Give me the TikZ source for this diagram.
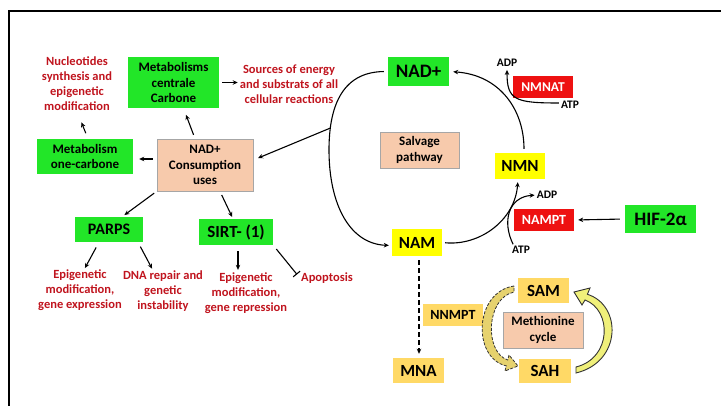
\documentclass[tikz,border=0pt]{standalone}
\usepackage{fontspec}
\setmainfont{Carlito}
\usetikzlibrary{arrows.meta}
\definecolor{grn}{HTML}{22E628}
\definecolor{peach}{HTML}{F7CAAC}
\definecolor{peachb}{HTML}{A6A6A6}
\definecolor{yel}{HTML}{FFFF00}
\definecolor{redb}{HTML}{EE1111}
\definecolor{gold}{HTML}{FFD966}
\definecolor{redt}{HTML}{C0141E}
\definecolor{arrA}{HTML}{E6D26E}
\definecolor{arrB}{HTML}{F0F07A}
\definecolor{dk}{HTML}{333333}
\tikzset{
  box/.style={inner sep=0pt, align=center, font=\fontsize{13}{15.5}\selectfont\bfseries},
  gbox/.style={box, fill=grn},
  pbox/.style={box, fill=peach, draw=peachb, line width=0.8pt},
  ybox/.style={box, fill=yel},
  rbox/.style={box, fill=redb, text=white},
  obox/.style={box, fill=gold},
  rtxt/.style={inner sep=0pt, align=center, text=redt, font=\fontsize{12.5}{15}\selectfont\bfseries},
  cof/.style={inner sep=0pt, font=\fontsize{11.5}{13}\selectfont\bfseries},
  arr/.style={-{Stealth[length=5pt,width=4.5pt]}, line width=1.1pt},
}
\begin{document}
\begin{tikzpicture}[x=1pt,y=-1pt]
\useasboundingbox (0,0) rectangle (721,406);
\draw[line width=2.5pt] (9,406) -- (9,11) -- (721,11);

% left part
\node[rtxt] (nucl) at (77,84) {Nucleotides\\synthesis and\\epigenetic\\modification};
\node[gbox, minimum width=91pt, minimum height=51pt] (metc) at (173.5,82.5) {Metabolisms\\centrale\\Carbone};
\node[rtxt] (src) at (289,84) {Sources of energy\\and substrats of all\\cellular reactions};
\node[gbox, minimum width=96pt, minimum height=35pt] (meto) at (85,156.5) {Metabolism\\one-carbone};
\node[pbox, minimum width=96pt, minimum height=52pt] (cons) at (205,165) {NAD+\\Consumption\\uses};
\node[gbox, minimum width=68pt, minimum height=25pt, font=\fontsize{16}{18}\selectfont\bfseries] (parps) at (109,229.5) {PARPS};
\node[gbox, minimum width=74pt, minimum height=26pt, font=\fontsize{17}{19}\selectfont\bfseries] (sirt) at (236,232) {SIRT- (1)};
\node[rtxt] (epi1) at (80,290.5) {Epigenetic\\modification,\\gene expression};
\node[rtxt] (dna) at (163,291) {DNA repair and\\genetic\\instability};
\node[rtxt] (epi2) at (246,293.5) {Epigenetic\\modification,\\gene repression};
\node[rtxt] (apop) at (327,278) {Apoptosis};

% salvage pathway
\node[gbox, minimum width=61pt, minimum height=29pt, font=\fontsize{19}{21}\selectfont\bfseries] (nadp) at (418.5,71.5) {NAD+};
\node[rbox, minimum width=60pt, minimum height=22pt, font=\fontsize{13.5}{15}\selectfont\bfseries] (nmnat) at (543,87) {NMNAT};
\node[cof] (adp1) at (507,63) {ADP};
\node[cof] (atp1) at (570,105) {ATP};
\node[pbox, minimum width=79pt, minimum height=36pt] (salv) at (419.5,150) {Salvage\\pathway};
\node[ybox, minimum width=50pt, minimum height=26pt, font=\fontsize{17}{19}\selectfont\bfseries] (nmn) at (520,166) {NMN};
\node[rbox, minimum width=60pt, minimum height=22pt, font=\fontsize{14}{16}\selectfont\bfseries] (nampt) at (544,220) {NAMPT};
\node[cof] (adp2) at (547,195) {ADP};
\node[cof] (atp2) at (521,250) {ATP};
\node[gbox, minimum width=71pt, minimum height=28pt, font=\fontsize{19}{21}\selectfont\bfseries] (hif) at (660.5,219) {HIF-2α};
\node[ybox, minimum width=50pt, minimum height=27pt, font=\fontsize{17}{19}\selectfont\bfseries] (nam) at (417,242.5) {NAM};
\node[obox, minimum width=51pt, minimum height=25pt, font=\fontsize{17}{19}\selectfont\bfseries] (mna) at (418.5,370.5) {MNA};
\node[obox, minimum width=60pt, minimum height=22pt, font=\fontsize{14}{16}\selectfont\bfseries] (nnmpt) at (453,315) {NNMPT};
\node[obox, minimum width=51pt, minimum height=25pt, font=\fontsize{17}{19}\selectfont\bfseries] (sam) at (543.5,290.5) {SAM};
\node[pbox, minimum width=80pt, minimum height=36pt] (meth) at (543,330) {Methionine\\cycle};
\node[obox, minimum width=52pt, minimum height=24pt, font=\fontsize{17}{19}\selectfont\bfseries] (sah) at (545,371) {SAH};

% connectors, left part
\draw[arr, shorten <=4pt, shorten >=6pt] ([yshift=6pt]cons.west) -- ([yshift=-2.5pt]meto.east);
\draw[arr, shorten <=4pt, shorten >=7pt] ([xshift=-10pt]cons.north) -- ([xshift=10pt]metc.south);
\draw[arr, shorten <=6pt, shorten >=12pt] ([xshift=3pt]meto.north) -- (nucl.south);
\draw[arr, shorten <=3pt, shorten >=2pt] (metc.east) -- (metc.east -| src.west);
\draw[arr, shorten <=3pt, shorten >=3pt] (cons.south west) -- ([xshift=13pt]parps.north);
\draw[arr, shorten <=4pt, shorten >=2pt] ([xshift=15pt]cons.south) -- ([xshift=-3pt]sirt.north);
\draw[arr, shorten <=6pt, shorten >=2pt] ([xshift=-10pt]parps.south) -- ([xshift=4pt]epi1.north);
\draw[arr, shorten <=5pt, shorten >=2pt] ([xshift=29pt]parps.south) -- ([xshift=-10pt]dna.north);
\draw[arr, shorten <=6pt, shorten >=3pt] ([xshift=2pt]sirt.south) -- ([xshift=2pt]sirt.south |- epi2.north);
\draw[-{Bar[width=9pt]}, line width=1.1pt, shorten <=5pt] (sirt.south east) -- ([xshift=-4pt,yshift=-2pt]apop.north west);

% salvage cycle
\coordinate (junc) at (330.5,128);
\draw[arr, shorten <=4pt, shorten >=3pt] (nadp.west) .. controls (340,72) and (329,110) .. (329,150) .. controls (329,205) and (350,244) .. ([yshift=-3pt]nam.west);
\draw[arr, shorten >=5pt] (junc) -- ([yshift=5pt]cons.east);
\draw[arr, shorten <=3pt, shorten >=3pt] (nam.east) .. controls (480,246) and (515,220) .. ([xshift=-2pt]nmn.south);
\draw[arr, shorten <=4pt, shorten >=4pt] ([xshift=4pt]nmn.north) .. controls (524,110) and (500,75) .. (nadp.east);
\draw[arr, shorten <=2pt, shorten >=3pt] ([yshift=2pt]atp1.west) .. controls (515,103) and (507,100) .. (adp1.south);
\draw[arr, shorten <=2pt, shorten >=2pt] ([xshift=-7pt]atp2.north) .. controls (502,222) and (508,197) .. (adp2.west);
\draw[arr, shorten <=5pt, shorten >=4pt] (hif.west) -- (nampt.east);
\draw[arr, line width=1.4pt, dash pattern=on 5pt off 3pt, shorten <=4pt, shorten >=4pt] ([xshift=2pt]nam.south) -- ([xshift=0.5pt]mna.north);

% methionine cycle block arrows
\draw[fill=arrA, draw=dk, line width=0.8pt, dash pattern=on 3pt off 1.5pt]
  (514,286) .. controls (474,292) and (472,358) .. (506.3,365.9) -- (505,371) -- (518,366) -- (509,355) -- (507.7,360)
  .. controls (484,352) and (486,298) .. (514,292) -- cycle;
\draw[fill=arrB, draw=dk, line width=0.9pt]
  (576,373) .. controls (622,362) and (622,305) .. (587.4,294.3) -- (590,288) -- (574,292) -- (582,305) -- (585,300)
  .. controls (612,310) and (612,358) .. (576,367) -- cycle;
\end{tikzpicture}
\end{document}
